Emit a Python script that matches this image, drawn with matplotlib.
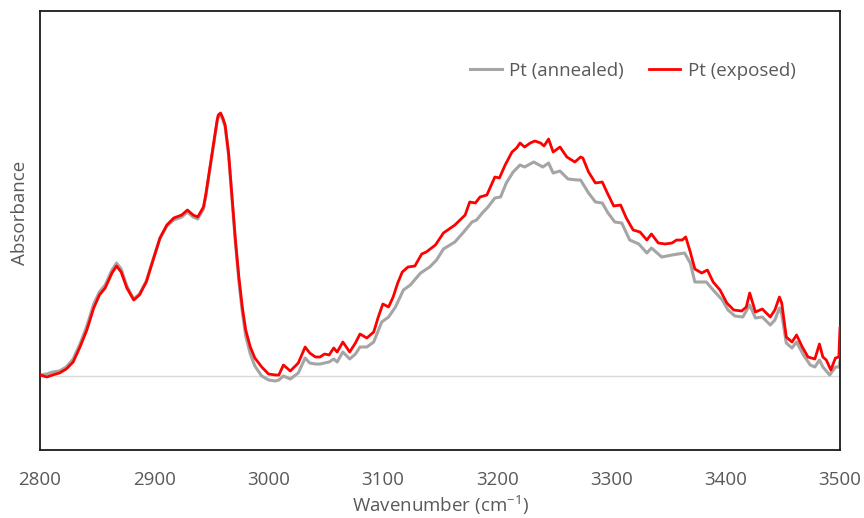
import matplotlib
matplotlib.use('Agg')
import matplotlib.pyplot as plt
from matplotlib.lines import Line2D

# Pt (exposed) - red trace (arbitrary absorbance units)
wn_exposed = [2800, 2806, 2811, 2817, 2823, 2829, 2835, 2841, 2847, 2852,
              2857, 2863, 2867, 2871, 2876, 2882, 2887, 2893, 2899, 2905,
              2911, 2917, 2924, 2929, 2934, 2938, 2943, 2945, 2947, 2952, 2955,
              2956, 2958, 2960, 2962, 2965, 2968, 2971, 2974, 2977, 2980, 2984, 2988,
              2994, 3000, 3006, 3009, 3013, 3019, 3026, 3032, 3036, 3041,
              3045, 3049, 3053, 3057, 3060, 3065, 3071, 3076, 3080, 3086,
              3092, 3096, 3100, 3105, 3109, 3113, 3117, 3122, 3128, 3134,
              3138, 3146, 3153, 3163, 3172, 3176, 3181, 3185, 3191, 3198,
              3202, 3207, 3213, 3217, 3220, 3224, 3229, 3233, 3238, 3241,
              3245, 3249, 3255, 3261, 3268, 3273, 3275, 3280, 3286, 3292,
              3296, 3302, 3308, 3313, 3319, 3325, 3331, 3335, 3341, 3347,
              3353, 3357, 3362, 3365, 3369, 3373, 3379, 3384, 3389, 3395,
              3401, 3407, 3414, 3418, 3421, 3426, 3432, 3439, 3443, 3447,
              3449, 3453, 3458, 3462, 3467, 3472, 3478, 3482, 3485, 3488,
              3492, 3496, 3499, 3500]
abs_exposed = [0.001, -0.001, 0.001, 0.003, 0.007, 0.014, 0.029, 0.046, 0.068, 0.081,
               0.088, 0.103, 0.110, 0.104, 0.088, 0.076, 0.081, 0.094, 0.116, 0.138,
               0.151, 0.158, 0.161, 0.166, 0.161, 0.159, 0.169, 0.181, 0.196, 0.233, 0.256,
               0.261, 0.263, 0.258, 0.251, 0.223, 0.179, 0.136, 0.099, 0.069, 0.046, 0.029, 0.018,
               0.009, 0.002, 0.001, 0.001, 0.011, 0.005, 0.013, 0.029, 0.023, 0.019,
               0.019, 0.022, 0.021, 0.028, 0.024, 0.034, 0.024, 0.033, 0.042, 0.038,
               0.044, 0.059, 0.072, 0.069, 0.079, 0.093, 0.104, 0.109, 0.110, 0.122,
               0.124, 0.131, 0.143, 0.151, 0.161, 0.174, 0.173, 0.179, 0.181, 0.199,
               0.198, 0.211, 0.224, 0.228, 0.233, 0.229, 0.233, 0.235, 0.233, 0.230,
               0.237, 0.224, 0.229, 0.219, 0.214, 0.219, 0.218, 0.204, 0.193, 0.194,
               0.184, 0.170, 0.171, 0.158, 0.146, 0.144, 0.136, 0.142, 0.133, 0.132,
               0.133, 0.136, 0.136, 0.139, 0.124, 0.107, 0.103, 0.106, 0.094, 0.086,
               0.073, 0.066, 0.065, 0.069, 0.083, 0.064, 0.067, 0.059, 0.066, 0.079,
               0.073, 0.039, 0.034, 0.041, 0.029, 0.019, 0.017, 0.032, 0.019, 0.016,
               0.006, 0.018, 0.019, 0.049]

# Pt (annealed) - grey trace
wn_annealed = [2800, 2806, 2811, 2817, 2823, 2829, 2835, 2841, 2847, 2852,
               2857, 2863, 2867, 2871, 2876, 2882, 2887, 2893, 2899, 2905,
               2911, 2917, 2924, 2929, 2934, 2938, 2943, 2945, 2947, 2952, 2955,
               2956, 2958, 2960, 2962, 2965, 2968, 2971, 2974, 2977, 2980, 2984, 2988,
               2994, 3000, 3006, 3009, 3013, 3019, 3026, 3032, 3036, 3041,
               3045, 3049, 3053, 3057, 3060, 3065, 3071, 3076, 3080, 3086,
               3092, 3099, 3105, 3111, 3118, 3124, 3133, 3141, 3147, 3153,
               3163, 3170, 3178, 3182, 3187, 3192, 3198, 3203, 3208, 3214,
               3220, 3224, 3232, 3240, 3245, 3249, 3255, 3262, 3270, 3273,
               3280, 3286, 3292, 3297, 3303, 3309, 3316, 3324, 3331, 3335,
               3344, 3353, 3364, 3369, 3373, 3383, 3389, 3397, 3402, 3408,
               3415, 3421, 3426, 3432, 3439, 3443, 3447, 3449, 3453, 3458,
               3462, 3468, 3474, 3478, 3482, 3485, 3491, 3496, 3499, 3500]
abs_annealed = [0.001, 0.002, 0.004, 0.005, 0.009, 0.017, 0.032, 0.050, 0.072, 0.084,
                0.091, 0.106, 0.113, 0.107, 0.090, 0.077, 0.082, 0.095, 0.117, 0.138,
                0.150, 0.156, 0.159, 0.164, 0.159, 0.157, 0.167, 0.179, 0.194, 0.231, 0.254,
                0.259, 0.261, 0.256, 0.249, 0.221, 0.177, 0.133, 0.095, 0.064, 0.040, 0.022, 0.010,
                0.000, -0.004, -0.005, -0.004, 0.000, -0.003, 0.003, 0.018, 0.013, 0.012,
                0.012, 0.013, 0.014, 0.017, 0.014, 0.024, 0.017, 0.022, 0.029, 0.029,
                0.034, 0.054, 0.059, 0.069, 0.086, 0.091, 0.103, 0.109, 0.116, 0.127,
                0.134, 0.143, 0.154, 0.156, 0.163, 0.169, 0.178, 0.179, 0.193, 0.204,
                0.211, 0.209, 0.214, 0.209, 0.213, 0.203, 0.205, 0.197, 0.196, 0.196,
                0.183, 0.174, 0.173, 0.163, 0.154, 0.153, 0.136, 0.132, 0.123, 0.128,
                0.119, 0.121, 0.123, 0.113, 0.094, 0.094, 0.086, 0.076, 0.066, 0.060,
                0.059, 0.071, 0.058, 0.059, 0.051, 0.056, 0.068, 0.062, 0.033, 0.028,
                0.034, 0.021, 0.011, 0.009, 0.016, 0.009, 0.001, 0.009, 0.009, 0.015]

xticks = [2800, 2900, 3000, 3100, 3200, 3300, 3400, 3500]

plt.rcParams['font.family'] = ['Open Sans', 'DejaVu Sans']
txt = '#595959'
fs = 13.5

fig = plt.figure(figsize=(8.64, 5.18), dpi=100)
ax = fig.add_axes([40 / 864, 1 - 450 / 518, 800 / 864, 439 / 518])

ax.axhline(0, color='#D9D9D9', lw=1.0, zorder=1)
ax.plot(wn_annealed, abs_annealed, color='#A5A5A5', lw=2.2, zorder=2,
        solid_joinstyle='round', solid_capstyle='round')
ax.plot(wn_exposed, abs_exposed, color='#FF0000', lw=2.0, zorder=3,
        solid_joinstyle='round', solid_capstyle='round')

ax.set_xlim(2800, 3500)
ax.set_ylim(-0.074, 0.365)
ax.set_xticks(xticks)
ax.set_xticklabels([str(t) for t in xticks])
ax.set_yticks([])
ax.tick_params(axis='x', length=0, pad=15, labelsize=fs, labelcolor=txt)
for s in ax.spines.values():
    s.set_color('#1a1a1a')
    s.set_linewidth(1.3)

fig.text(440 / 864, 1 - 505 / 518, 'Wavenumber (cm$^{\\mathregular{-1}}$)',
         ha='center', va='center', fontsize=fs, color=txt)
fig.text(20 / 864, 1 - 213 / 518, 'Absorbance', rotation=90,
         ha='center', va='center', fontsize=fs, color=txt)

handles = [Line2D([], [], color='#A5A5A5', lw=2.2),
           Line2D([], [], color='#FF0000', lw=2.0)]
ax.legend(handles, ['Pt (annealed)', 'Pt (exposed)'], ncol=2, frameon=False,
          loc='center left', bbox_to_anchor=(470 / 864, 1 - 71 / 518),
          bbox_transform=fig.transFigure, borderpad=0, borderaxespad=0,
          handlelength=1.7, handletextpad=0.4, columnspacing=1.3,
          fontsize=fs, labelcolor=txt)

fig.savefig('out.png', dpi=100)
